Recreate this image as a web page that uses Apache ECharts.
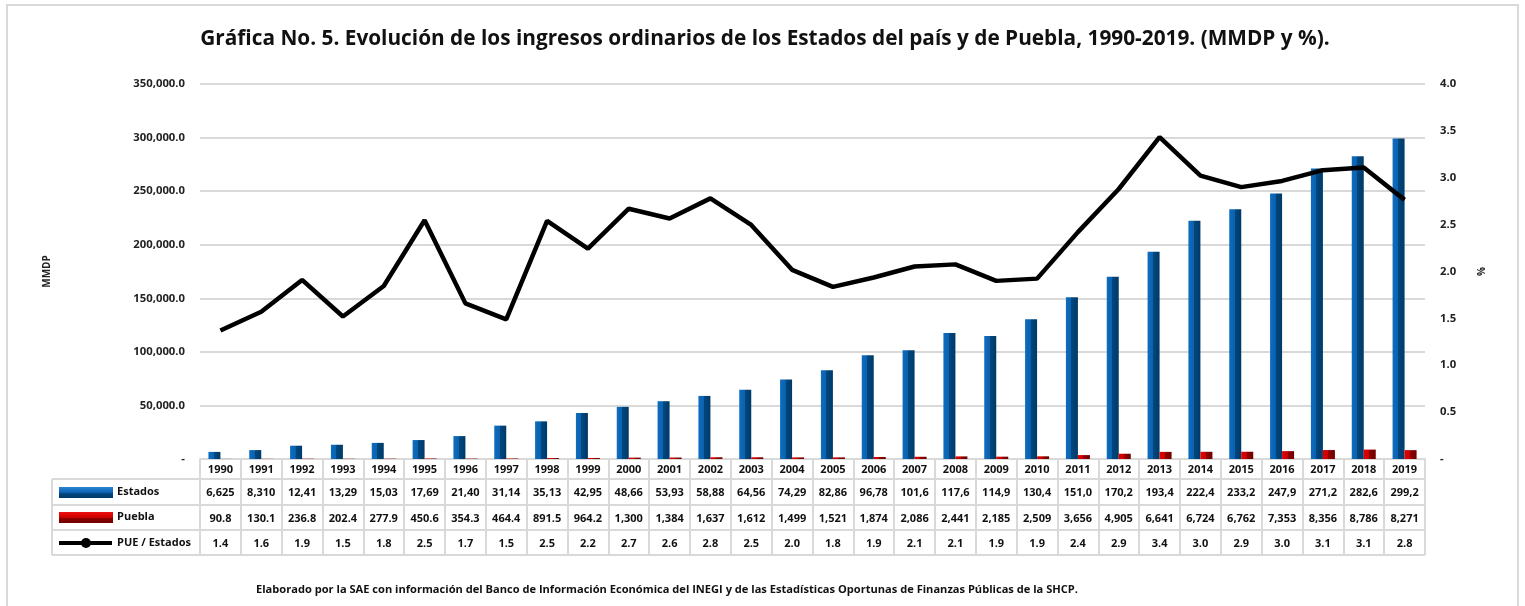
<!DOCTYPE html>
<html>
<head>
<meta charset="utf-8">
<script src="https://cdn.jsdelivr.net/npm/echarts@6/dist/echarts.min.js"></script>
<style>
  html, body { margin: 0; padding: 0; background: #fff; }
  #chart { width: 1525px; height: 606px; }
</style>
</head>
<body>
<div id="chart"></div>
<script>
// datos (MMDP)
const years = ['1990','1991','1992','1993','1994','1995','1996','1997','1998','1999','2000','2001','2002','2003','2004',
  '2005','2006','2007','2008','2009','2010','2011','2012','2013','2014','2015','2016','2017','2018','2019'];
const estados = [6625, 8310, 12410, 13290, 15030, 17690, 21400, 31140, 35130, 42950, 48660, 53930, 58880, 64560, 74290,
  82860, 96780, 101600, 117600, 114900, 130400, 151000, 170200, 193400, 222400, 233200, 247900, 271200, 282600, 299200];
const puebla = [90.8, 130.1, 236.8, 202.4, 277.9, 450.6, 354.3, 464.4, 891.5, 964.2, 1300, 1384, 1637, 1612, 1499,
  1521, 1874, 2086, 2441, 2185, 2509, 3656, 4905, 6641, 6724, 6762, 7353, 8356, 8786, 8271];
const ratio = [1.37, 1.57, 1.91, 1.52, 1.845, 2.547, 1.66, 1.49, 2.54, 2.245, 2.67, 2.566, 2.78, 2.497, 2.018,
  1.836, 1.936, 2.053, 2.076, 1.90, 1.924, 2.42, 2.88, 3.434, 3.023, 2.90, 2.966, 3.081, 3.109, 2.764];

const font = 'Open Sans';
const grey = '#d9d9d9';

// celdas de la tabla (el texto se corta como en la hoja original)
const fmtEstados = v => v.toLocaleString('en-US').slice(0, 5);
const fmtPuebla = v => v < 1000 ? v.toFixed(1) : v.toLocaleString('en-US', {maximumFractionDigits: 0});

const blue = new echarts.graphic.LinearGradient(0, 0, 1, 0, [
  {offset: 0, color: '#0f6cbd'}, {offset: 0.45, color: '#0a62b0'},
  {offset: 0.46, color: '#00477f'}, {offset: 1, color: '#003a68'}
]);
const red = new echarts.graphic.LinearGradient(0, 0, 1, 0, [
  {offset: 0, color: '#e00000'}, {offset: 0.45, color: '#cc0000'},
  {offset: 0.46, color: '#900000'}, {offset: 1, color: '#700000'}
]);
const blueIcon = new echarts.graphic.LinearGradient(0, 0, 0, 1, [
  {offset: 0, color: '#2a84d2'}, {offset: 0.5, color: '#0a62b0'}, {offset: 0.55, color: '#004a85'}, {offset: 1, color: '#003a68'}
]);
const redIcon = new echarts.graphic.LinearGradient(0, 0, 0, 1, [
  {offset: 0, color: '#f01010'}, {offset: 0.5, color: '#cc0000'}, {offset: 0.55, color: '#900000'}, {offset: 1, color: '#700000'}
]);

let myChart = echarts.init(document.getElementById('chart'));

const rowLine = (y) => ({type: 'line', shape: {x1: 52, y1: y, x2: 1425, y2: y}, style: {stroke: grey, lineWidth: 2}});

const options = {
  animation: false,
  textStyle: {fontFamily: font},
  title: {
    text: 'Gráfica No. 5. Evolución de los ingresos ordinarios de los Estados del país y de Puebla, 1990-2019. (MMDP y %).',
    left: 760, top: 24, textAlign: 'center',
    textStyle: {fontFamily: font, fontSize: 20.8, fontWeight: 'bold', color: '#111'}
  },
  grid: {left: 200, right: 100, top: 84, bottom: 147},
  xAxis: {
    type: 'category',
    data: years,
    axisLine: {lineStyle: {color: grey, width: 2}},
    axisTick: {show: true, length: 96, lineStyle: {color: grey, width: 2}},
    axisLabel: {
      interval: 0, margin: 0,
      formatter: (v, i) => '{y|' + v + '}\n{e|' + fmtEstados(estados[i]) + '}\n{p|' + fmtPuebla(puebla[i]) + '}\n{r|' + ratio[i].toFixed(1) + '}',
      rich: {
        y: {lineHeight: 21, fontSize: 11, fontWeight: 'bold', color: '#111', fontFamily: font},
        e: {lineHeight: 26, fontSize: 11, fontWeight: 'bold', color: '#111', fontFamily: font},
        p: {lineHeight: 25, fontSize: 11, fontWeight: 'bold', color: '#111', fontFamily: font},
        r: {lineHeight: 25, fontSize: 11, fontWeight: 'bold', color: '#111', fontFamily: font}
      }
    }
  },
  yAxis: [
    {
      type: 'value', min: 0, max: 350000, interval: 50000,
      name: 'MMDP', nameLocation: 'middle', nameGap: 148, nameRotate: 90,
      nameTextStyle: {fontFamily: font, fontSize: 10, fontWeight: 'bold', color: '#222'},
      axisLabel: {
        margin: 15, fontSize: 11.3, fontWeight: 'bold', color: '#222',
        formatter: v => v === 0 ? '-' : v.toLocaleString('en-US', {minimumFractionDigits: 1})
      },
      splitLine: {lineStyle: {color: grey, width: 2}}
    },
    {
      type: 'value', min: 0, max: 4, interval: 0.5,
      name: '%', nameLocation: 'middle', nameGap: 50, nameRotate: -90,
      nameTextStyle: {fontFamily: font, fontSize: 10, fontWeight: 'bold', color: '#222'},
      axisLabel: {
        margin: 15, fontSize: 11.3, fontWeight: 'bold', color: '#222',
        formatter: v => v === 0 ? '-' : v.toFixed(1)
      },
      splitLine: {show: false}
    }
  ],
  series: [
    {name: 'Estados', type: 'bar', data: estados, barWidth: 12, barGap: 0, itemStyle: {color: blue}},
    {name: 'Puebla', type: 'bar', data: puebla, barWidth: 12, barGap: 0, itemStyle: {color: red}},
    {name: 'PUE / Estados', type: 'line', yAxisIndex: 1, data: ratio, showSymbol: false, symbol: 'none',
      lineStyle: {color: '#000', width: 4.5}, z: 5}
  ],
  graphic: [
    {type: 'rect', shape: {x: 7, y: 5, width: 1511, height: 605}, style: {fill: 'none', stroke: grey, lineWidth: 2}, silent: true},
    rowLine(479), rowLine(505), rowLine(530), rowLine(555),
    {type: 'line', shape: {x1: 52, y1: 479, x2: 52, y2: 555}, style: {stroke: grey, lineWidth: 2}},
    // leyenda dentro de la tabla
    {type: 'rect', shape: {x: 59, y: 487, width: 54, height: 11}, style: {fill: blueIcon}},
    {type: 'text', x: 117, y: 492, style: {text: 'Estados', font: 'bold 11px "Open Sans"', fill: '#111', verticalAlign: 'middle'}},
    {type: 'rect', shape: {x: 59, y: 512, width: 54, height: 11}, style: {fill: redIcon}},
    {type: 'text', x: 117, y: 517, style: {text: 'Puebla', font: 'bold 11px "Open Sans"', fill: '#111', verticalAlign: 'middle'}},
    {type: 'line', shape: {x1: 59, y1: 543, x2: 112, y2: 543}, style: {stroke: '#000', lineWidth: 4}},
    {type: 'circle', shape: {cx: 86, cy: 543, r: 5}, style: {fill: '#000'}},
    {type: 'text', x: 117, y: 543, style: {text: 'PUE / Estados', font: 'bold 11px "Open Sans"', fill: '#111', verticalAlign: 'middle'}},
    {type: 'text', x: 667, y: 590, style: {
      text: 'Elaborado por la SAE con información del Banco de Información Económica del INEGI y de las Estadísticas Oportunas de Finanzas Públicas de la SHCP.',
      font: 'bold 11.1px "Open Sans"', fill: '#111', align: 'center', verticalAlign: 'middle'}}
  ]
};

myChart.setOption(options);
</script>
</body>
</html>
